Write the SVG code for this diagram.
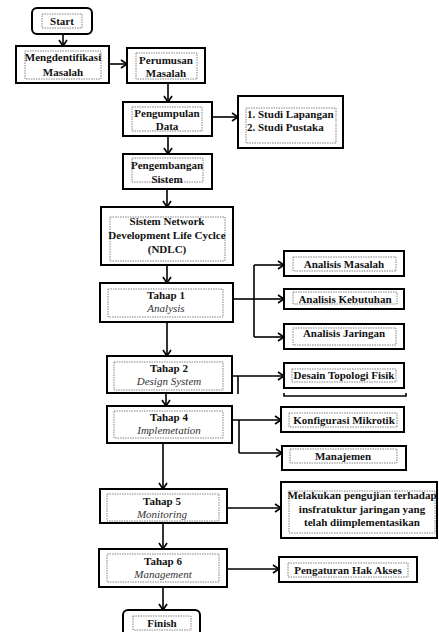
<svg xmlns="http://www.w3.org/2000/svg" width="439" height="632" viewBox="0 0 439 632">
<defs>
<marker id="arr" markerUnits="userSpaceOnUse" markerWidth="10" markerHeight="12" refX="7" refY="5" orient="auto">
<path d="M1,1 L7,5 L1,9" fill="none" stroke="#000" stroke-width="1.6"/>
</marker>
<style>
.box{fill:#fff;stroke:#000;stroke-width:2}
.in{fill:none;stroke:#777;stroke-width:0.9;stroke-dasharray:1.5 1}
.t{font-family:"Liberation Serif","Times New Roman",serif;font-weight:bold;font-size:11px;fill:#111;text-anchor:middle}
.l{text-anchor:start}
.i{font-family:"Liberation Serif","Times New Roman",serif;font-style:italic;font-size:11px;fill:#333;text-anchor:middle}
.c{fill:none;stroke:#000;stroke-width:1.6}
.a{fill:none;stroke:#000;stroke-width:1.6;marker-end:url(#arr)}
</style>
</defs>
<rect width="439" height="632" fill="#fff"/>
<g id="connectors">
<line class="a" x1="63" y1="34" x2="63" y2="46"/>
<line class="a" x1="109" y1="64" x2="127" y2="64"/>
<line class="a" x1="168" y1="83" x2="168" y2="102"/>
<line class="a" x1="212" y1="117" x2="238" y2="117"/>
<line class="a" x1="168" y1="136" x2="168" y2="154"/>
<line class="a" x1="167" y1="189" x2="167" y2="207"/>
<line class="a" x1="167" y1="265" x2="167" y2="283"/>
<line class="c" x1="233" y1="299" x2="254" y2="299"/>
<line class="c" x1="254" y1="265" x2="254" y2="337"/>
<line class="a" x1="254" y1="265" x2="284" y2="265"/>
<line class="a" x1="254" y1="299" x2="284" y2="299"/>
<line class="a" x1="254" y1="337" x2="284" y2="337"/>
<line class="a" x1="167" y1="322" x2="167" y2="356"/>
<line class="a" x1="232" y1="376" x2="284" y2="376"/>
<line class="c" x1="238" y1="376" x2="238" y2="394"/>
<path class="c" d="M284,393 V396 H406 V393"/>
<line class="a" x1="166" y1="393" x2="166" y2="406"/>
<line class="a" x1="232" y1="420" x2="281" y2="420"/>
<line class="c" x1="239" y1="420" x2="239" y2="453"/>
<line class="a" x1="239" y1="453" x2="282" y2="453"/>
<line class="a" x1="163" y1="443" x2="163" y2="489"/>
<line class="a" x1="227" y1="508" x2="281" y2="508"/>
<line class="a" x1="163" y1="523" x2="163" y2="549"/>
<line class="a" x1="227" y1="569" x2="279" y2="569"/>
<line class="a" x1="163" y1="587" x2="163" y2="610"/>
</g>
<g id="start">
<rect class="box" x="32" y="8" width="60" height="26" rx="5"/>
<rect class="in" x="42" y="14" width="40" height="14"/>
<text class="t" x="62" y="25">Start</text>
</g>
<g id="mengdentifikasi">
<rect class="box" x="16" y="46" width="93" height="37"/>
<rect class="in" x="25" y="51" width="76" height="28"/>
<text class="t" x="63" y="61">Mengdentifikasi</text>
<text class="t" x="63" y="76">Masalah</text>
</g>
<g id="perumusan">
<rect class="box" x="127" y="48" width="78" height="35"/>
<rect class="in" x="136" y="53" width="61" height="26"/>
<text class="t" x="166" y="64">Perumusan</text>
<text class="t" x="166" y="77">Masalah</text>
</g>
<g id="pengumpulan">
<rect class="box" x="123" y="102" width="89" height="34"/>
<rect class="in" x="132" y="107" width="70" height="24"/>
<text class="t" x="167" y="117">Pengumpulan</text>
<text class="t" x="167" y="130">Data</text>
</g>
<g id="studi">
<rect class="box" x="238" y="96" width="105" height="52"/>
<rect class="in" x="246" y="108" width="90" height="35"/>
<text class="t l" x="247" y="118">1. Studi Lapangan</text>
<text class="t l" x="247" y="131">2. Studi Pustaka</text>
</g>
<g id="pengembangan">
<rect class="box" x="123" y="154" width="89" height="35"/>
<rect class="in" x="132" y="158" width="71" height="24"/>
<text class="t" x="167" y="169">Pengembangan</text>
<text class="t" x="167" y="183">Sistem</text>
</g>
<g id="ndlc">
<rect class="box" x="101" y="207" width="132" height="58"/>
<rect class="in" x="110" y="217" width="115" height="44"/>
<text class="t" x="167" y="225">Sistem  Network</text>
<text class="t" x="167" y="239">Development Life Cyclce</text>
<text class="t" x="167" y="253">(NDLC)</text>
</g>
<g id="tahap1">
<rect class="box" x="100" y="283" width="133" height="39"/>
<rect class="in" x="108" y="289" width="115" height="28"/>
<text class="t" x="166" y="299">Tahap 1</text>
<text class="i" x="166" y="312">Analysis</text>
</g>
<g id="analisis-masalah">
<rect class="box" x="284" y="251" width="120" height="25"/>
<rect class="in" x="293" y="257" width="103" height="14"/>
<text class="t" x="344" y="268">Analisis Masalah</text>
</g>
<g id="analisis-kebutuhan">
<rect class="box" x="284" y="289" width="120" height="20"/>
<rect class="in" x="293" y="292" width="104" height="12"/>
<text class="t" x="345" y="303">Analisis Kebutuhan</text>
</g>
<g id="analisis-jaringan">
<rect class="box" x="284" y="324" width="120" height="25"/>
<rect class="in" x="293" y="328" width="103" height="17"/>
<text class="t" x="344" y="337">Analisis Jaringan</text>
</g>
<g id="tahap2">
<rect class="box" x="107" y="356" width="125" height="37"/>
<rect class="in" x="114" y="362" width="109" height="28"/>
<text class="t" x="169" y="372">Tahap 2</text>
<text class="i" x="169" y="385">Design System</text>
</g>
<g id="desain">
<rect class="box" x="284" y="363" width="120" height="25"/>
<rect class="in" x="292" y="369" width="104" height="13"/>
<text class="t" x="344" y="379">Desain Topologi Fisik</text>
</g>
<g id="tahap4">
<rect class="box" x="107" y="406" width="125" height="37"/>
<rect class="in" x="114" y="411" width="109" height="27"/>
<text class="t" x="169" y="421">Tahap 4</text>
<text class="i" x="169" y="434">Implemetation</text>
</g>
<g id="konfigurasi">
<rect class="box" x="281" y="407" width="123" height="25"/>
<rect class="in" x="289" y="413" width="108" height="14"/>
<text class="t" x="344" y="424">Konfigurasi  Mikrotik</text>
</g>
<g id="manajemen">
<rect class="box" x="282" y="446" width="124" height="24"/>
<rect class="in" x="290" y="449" width="107" height="14"/>
<text class="t" x="343" y="460">Manajemen</text>
</g>
<g id="tahap5">
<rect class="box" x="100" y="489" width="127" height="34"/>
<rect class="in" x="107" y="494" width="112" height="27"/>
<text class="t" x="162" y="505">Tahap 5</text>
<text class="i" x="162" y="518">Monitoring</text>
</g>
<g id="melakukan">
<rect class="box" x="281" y="482" width="156" height="56"/>
<rect class="in" x="289" y="491" width="146" height="42"/>
<text class="t" x="362" y="499">Melakukan pengujian terhadap</text>
<text class="t" x="362" y="513">insfratuktur  jaringan yang</text>
<text class="t" x="362" y="526">telah diimplementasikan</text>
</g>
<g id="tahap6">
<rect class="box" x="99" y="549" width="128" height="38"/>
<rect class="in" x="107" y="554" width="112" height="28"/>
<text class="t" x="163" y="565">Tahap 6</text>
<text class="i" x="163" y="578">Management</text>
</g>
<g id="pengaturan">
<rect class="box" x="279" y="557" width="138" height="25"/>
<rect class="in" x="288" y="563" width="120" height="14"/>
<text class="t" x="348" y="574">Pengaturan Hak Akses</text>
</g>
<g id="finish">
<rect class="box" x="123" y="610" width="77" height="30" rx="5"/>
<rect class="in" x="133" y="616" width="58" height="14"/>
<text class="t" x="162" y="627">Finish</text>
</g>
</svg>
